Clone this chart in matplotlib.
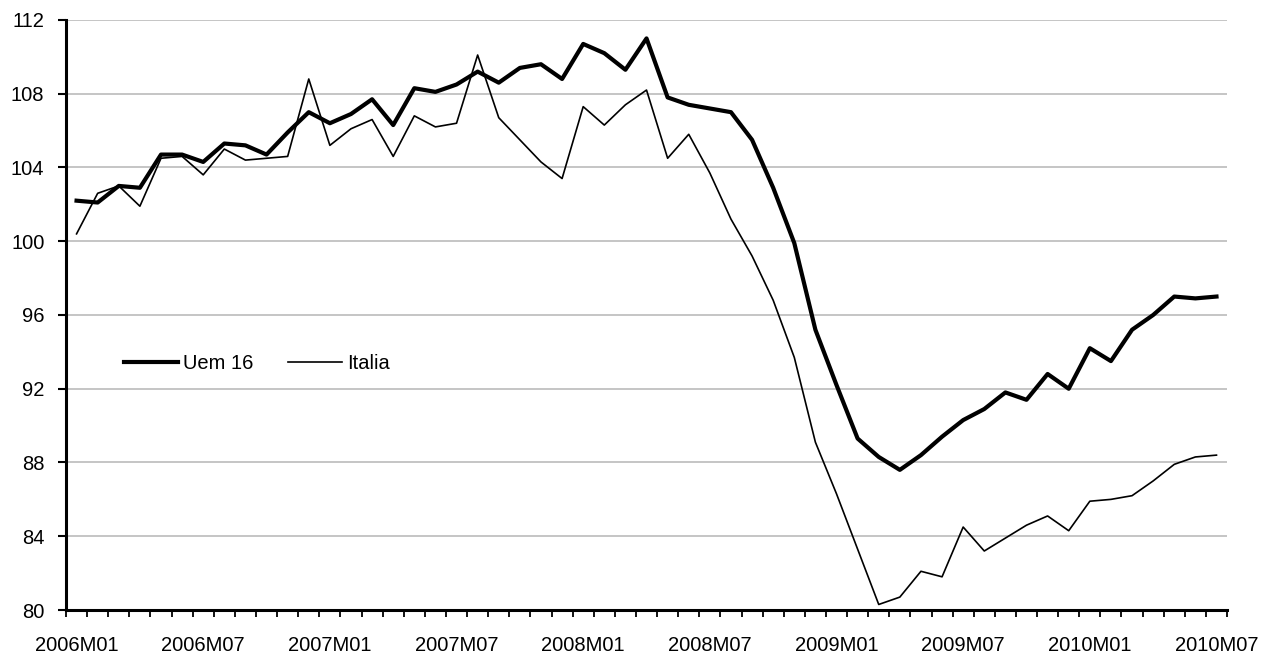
import matplotlib
matplotlib.use("Agg")
import matplotlib.pyplot as plt
import numpy as np

plt.rcParams["font.family"] = ["Liberation Sans", "DejaVu Sans"]

# monthly periods 2006M01 .. 2010M07
years = [2006, 2007, 2008, 2009, 2010]
periods = [f"{y}M{m:02d}" for y in years for m in range(1, 13)][:55]

uem16 = [102.2, 102.1, 103.0, 102.9, 104.7, 104.7, 104.3, 105.3, 105.2, 104.7,
         105.9, 107.0, 106.4, 106.9, 107.7, 106.3, 108.3, 108.1, 108.5, 109.2,
         108.6, 109.4, 109.6, 108.8, 110.7, 110.2, 109.3, 111.0, 107.8, 107.4,
         107.2, 107.0, 105.5, 102.9, 99.9, 95.2, 92.2, 89.3, 88.3, 87.6,
         88.4, 89.4, 90.3, 90.9, 91.8, 91.4, 92.8, 92.0, 94.2, 93.5,
         95.2, 96.0, 97.0, 96.9, 97.0]

italia = [100.4, 102.6, 103.0, 101.9, 104.5, 104.6, 103.6, 105.0, 104.4, 104.5,
          104.6, 108.8, 105.2, 106.1, 106.6, 104.6, 106.8, 106.2, 106.4, 110.1,
          106.7, 105.5, 104.3, 103.4, 107.3, 106.3, 107.4, 108.2, 104.5, 105.8,
          103.7, 101.2, 99.2, 96.8, 93.7, 89.1, 86.3, 83.3, 80.3, 80.7,
          82.1, 81.8, 84.5, 83.2, 83.9, 84.6, 85.1, 84.3, 85.9, 86.0,
          86.2, 87.0, 87.9, 88.3, 88.4]

yticks = [80, 84, 88, 92, 96, 100, 104, 108, 112]

fig = plt.figure(figsize=(12.62, 6.55), dpi=100)
ax = fig.add_axes([0.0523, 0.0687, 0.92, 0.9008])

x = np.arange(len(periods))
ax.plot(x, uem16, color="black", linewidth=3.0, label="Uem 16")
ax.plot(x, italia, color="black", linewidth=1.2, label="Italia")

ax.set_xlim(-0.5, len(periods) - 0.5)
ax.set_ylim(80, 112)
ax.set_yticks(yticks)
ax.yaxis.grid(True, color="#c0c0c0", linewidth=1.3)
ax.set_axisbelow(True)

# category labels every 6 months, tick marks at category boundaries
ax.set_xticks(x[::6])
ax.set_xticklabels(periods[::6])
ax.set_xticks(np.arange(-0.5, len(periods)), minor=True)
ax.tick_params(axis="x", which="major", length=0, pad=19, labelsize=14.5)
ax.tick_params(axis="x", which="minor", length=5, width=1.3, direction="out")
ax.tick_params(axis="y", length=5.5, width=1.5, labelsize=14.5, pad=10)

for s in ["top", "right"]:
    ax.spines[s].set_visible(False)
for s in ["left", "bottom"]:
    ax.spines[s].set_linewidth(2.2)

ax.legend(loc="center left", bbox_to_anchor=(0.050, 0.418), ncol=2, frameon=False,
          fontsize=14.5, handlelength=2.7, handletextpad=0.25, columnspacing=1.7,
          borderpad=0, borderaxespad=0)

fig.savefig("out.png", dpi=100)
